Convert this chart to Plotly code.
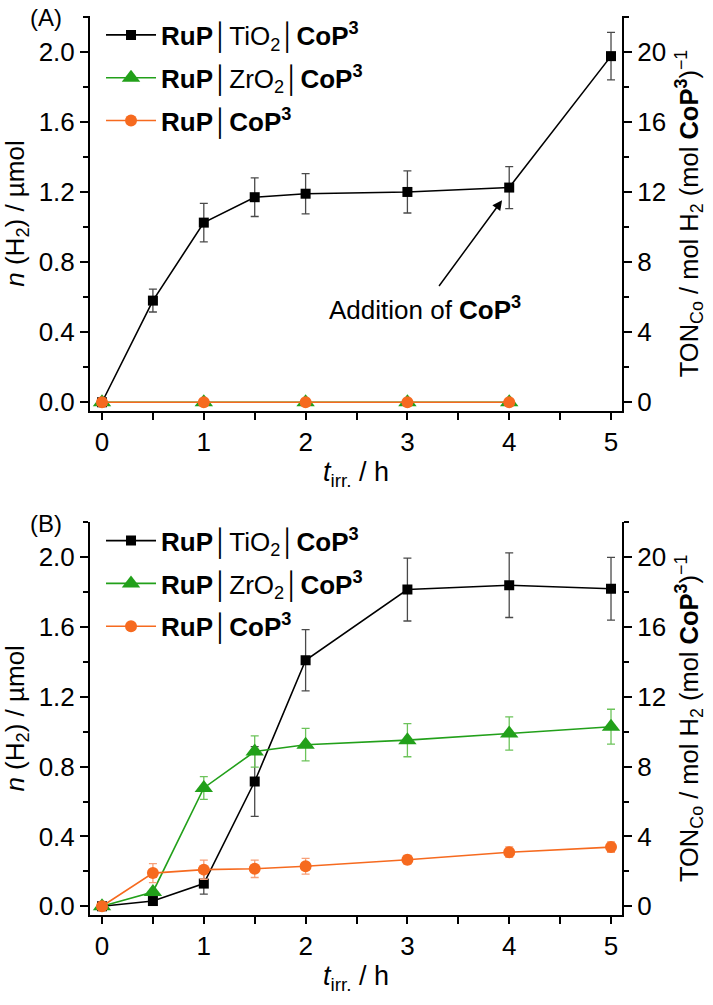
import plotly.graph_objects as go

# ---------------- data ----------------
t_a_ti = [0, 0.5, 1, 1.5, 2, 3, 4, 5]
n_a_ti = [0.0, 0.58, 1.025, 1.17, 1.19, 1.20, 1.225, 1.975]
e_a_ti = [0.0, 0.065, 0.11, 0.11, 0.115, 0.12, 0.12, 0.135]

t_a_zr = [0, 1, 2, 3, 4]
n_a_zr = [0, 0, 0, 0, 0]
t_a_co = [0, 1, 2, 3, 4]
n_a_co = [0, 0, 0, 0, 0]

t_b = [0, 0.5, 1, 1.5, 2, 3, 4, 5]
n_b_ti = [0.0, 0.03, 0.13, 0.715, 1.41, 1.815, 1.84, 1.82]
e_b_ti = [0.0, 0.0, 0.06, 0.2, 0.175, 0.18, 0.185, 0.18]
n_b_zr = [0.0, 0.082, 0.678, 0.887, 0.926, 0.952, 0.99, 1.029]
e_b_zr = [0.0, 0.0, 0.065, 0.09, 0.093, 0.095, 0.095, 0.1]
n_b_co = [0.0, 0.19, 0.21, 0.215, 0.229, 0.267, 0.31, 0.339]
e_b_co = [0.0, 0.055, 0.055, 0.05, 0.045, 0.025, 0.03, 0.03]

x_ticks = [0, 1, 2, 3, 4, 5]
y_ticks = [0.0, 0.4, 0.8, 1.2, 1.6, 2.0]
ton_ticks = [0, 4, 8, 12, 16, 20]
ton_per_umol = 10  # TON axis scale factor

names = [
    "<b>RuP</b>│TiO<sub>2</sub>│<b>CoP<sup>3</sup></b>",
    "<b>RuP</b>│ZrO<sub>2</sub>│<b>CoP<sup>3</sup></b>",
    "<b>RuP</b>│<b>CoP<sup>3</sup></b>",
]

# ---------------- style ----------------
FONT = "Liberation Sans, Arial, sans-serif"
BLACK = "#000000"
GREEN = "#22a01a"
ORANGE = "#f66a1f"
EB_BLACK = "#4a4a4a"
EB_GREEN = "#6cc35a"
EB_ORANGE = "#f7a078"

fig = go.Figure()

def add(x, y, err, color, ebc, symbol, size, name, xa, ya, legend, group):
    fig.add_trace(go.Scatter(
        x=x, y=y, name=name, mode="lines+markers",
        line=dict(color=color, width=1.6),
        marker=dict(symbol=symbol, size=size, color=color),
        error_y=(dict(type="data", array=err, visible=True, color=ebc,
                      thickness=1.3, width=4) if err is not None else None),
        xaxis=xa, yaxis=ya, legend=legend, legendgroup=group,
    ))

# panel A
add(t_a_ti, n_a_ti, e_a_ti, BLACK, EB_BLACK, "square", 10, names[0], "x", "y", "legend", "a1")
add(t_a_zr, n_a_zr, None, GREEN, EB_GREEN, "triangle-up", 16, names[1], "x", "y", "legend", "a2")
add(t_a_co, n_a_co, None, ORANGE, EB_ORANGE, "circle", 12, names[2], "x", "y", "legend", "a3")
# panel B
add(t_b, n_b_ti, e_b_ti, BLACK, EB_BLACK, "square", 10, names[0], "x2", "y3", "legend2", "b1")
add(t_b, n_b_zr, e_b_zr, GREEN, EB_GREEN, "triangle-up", 16, names[1], "x2", "y3", "legend2", "b2")
add(t_b, n_b_co, e_b_co, ORANGE, EB_ORANGE, "circle", 12, names[2], "x2", "y3", "legend2", "b3")

# dummy invisible traces so the right axes are created
fig.add_trace(go.Scatter(x=[None], y=[None], xaxis="x", yaxis="y2", showlegend=False, hoverinfo="skip"))
fig.add_trace(go.Scatter(x=[None], y=[None], xaxis="x2", yaxis="y4", showlegend=False, hoverinfo="skip"))

y_range = [-0.05, 2.204]
x_range = [-0.118, 5.108]

TICK_FS = 26
common_axis = dict(showline=True, linecolor="black", linewidth=2, ticks="outside",
                   tickcolor="black", tickwidth=1.6, showgrid=False, zeroline=False,
                   automargin=False,
                   tickfont=dict(family=FONT, size=TICK_FS, color="black"))

xtitle = dict(text="<i>t</i><sub>irr.</sub> / h", font=dict(family=FONT, size=27, color="black"), standoff=6)
ytitle = dict(text="<i>n</i> (H<sub>2</sub>) / µmol", font=dict(family=FONT, size=26, color="black"), standoff=8)
y2title = dict(text="TON<sub>Co</sub> / mol H<sub>2</sub> (mol <b>CoP<sup>3</sup></b>)<sup>−1</sup>",
               font=dict(family=FONT, size=25.5, color="black"), standoff=15)

dom_a = [0.5606, 1.0]
dom_b = [0.0, 0.4375]

def xaxis(domain_anchor):
    return dict(common_axis, range=x_range, tickvals=x_ticks, ticklen=7, anchor=domain_anchor,
                minor=dict(dtick=0.5, tick0=0, ticklen=7, tickcolor="black", tickwidth=1.6, ticks="outside"),
                title=xtitle)

def yleft(domain, anchor):
    return dict(common_axis, range=y_range, tickvals=y_ticks, tickformat=".1f", ticklen=8,
                domain=domain, anchor=anchor,
                minor=dict(dtick=0.2, tick0=0, ticklen=5, tickcolor="black", tickwidth=1.6, ticks="outside"),
                title=ytitle)

def yright(overlay, anchor):
    return dict(common_axis, range=[v * ton_per_umol for v in y_range], tickvals=ton_ticks, ticklen=8,
                overlaying=overlay, side="right", anchor=anchor,
                minor=dict(dtick=2, tick0=0, ticklen=5, tickcolor="black", tickwidth=1.6, ticks="outside"),
                title=y2title)

legend_style = dict(font=dict(family=FONT, size=26, color="black"), bgcolor="rgba(0,0,0,0)",
                    borderwidth=0, xanchor="left", yanchor="top", itemwidth=50,
                    tracegroupgap=6, itemclick=False, itemdoubleclick=False)

fig.update_layout(
    width=713, height=1005,
    margin=dict(l=90, r=91, t=16, b=90, autoexpand=False),
    paper_bgcolor="white", plot_bgcolor="white",
    font=dict(family=FONT, size=24, color="black"),
    xaxis=xaxis("y"),
    xaxis2=xaxis("y3"),
    yaxis=yleft(dom_a, "x"),
    yaxis2=yright("y", "x"),
    yaxis3=yleft(dom_b, "x2"),
    yaxis4=yright("y3", "x2"),
    legend=dict(legend_style, x=0.0207, y=1.005),
    legend2=dict(legend_style, x=0.0207, y=dom_b[1] + 0.005),
    showlegend=True,
    annotations=[
        dict(text="(A)", xref="paper", yref="paper", x=-0.0836, y=0.9983, showarrow=False,
             xanchor="center", yanchor="middle",
             font=dict(family=FONT, size=24, color="black")),
        dict(text="(B)", xref="paper", yref="paper", x=-0.0836, y=0.4355, showarrow=False,
             xanchor="center", yanchor="middle",
             font=dict(family=FONT, size=24, color="black")),
        dict(text="", x=3.93, y=1.153, xref="x", yref="y", ax=3.30, ay=0.655, axref="x", ayref="y",
             showarrow=True, arrowhead=2, arrowsize=1.3, arrowwidth=1.5, arrowcolor="black"),
        dict(text="Addition of <b>CoP<sup>3</sup></b>", x=3.17, y=0.535, xref="x", yref="y",
             xanchor="center", yanchor="middle",
             showarrow=False, font=dict(family=FONT, size=26, color="black")),
    ],
)

fig.write_html("out.html", config={"displayModeBar": False},
               post_script="document.body.style.margin='0';")
